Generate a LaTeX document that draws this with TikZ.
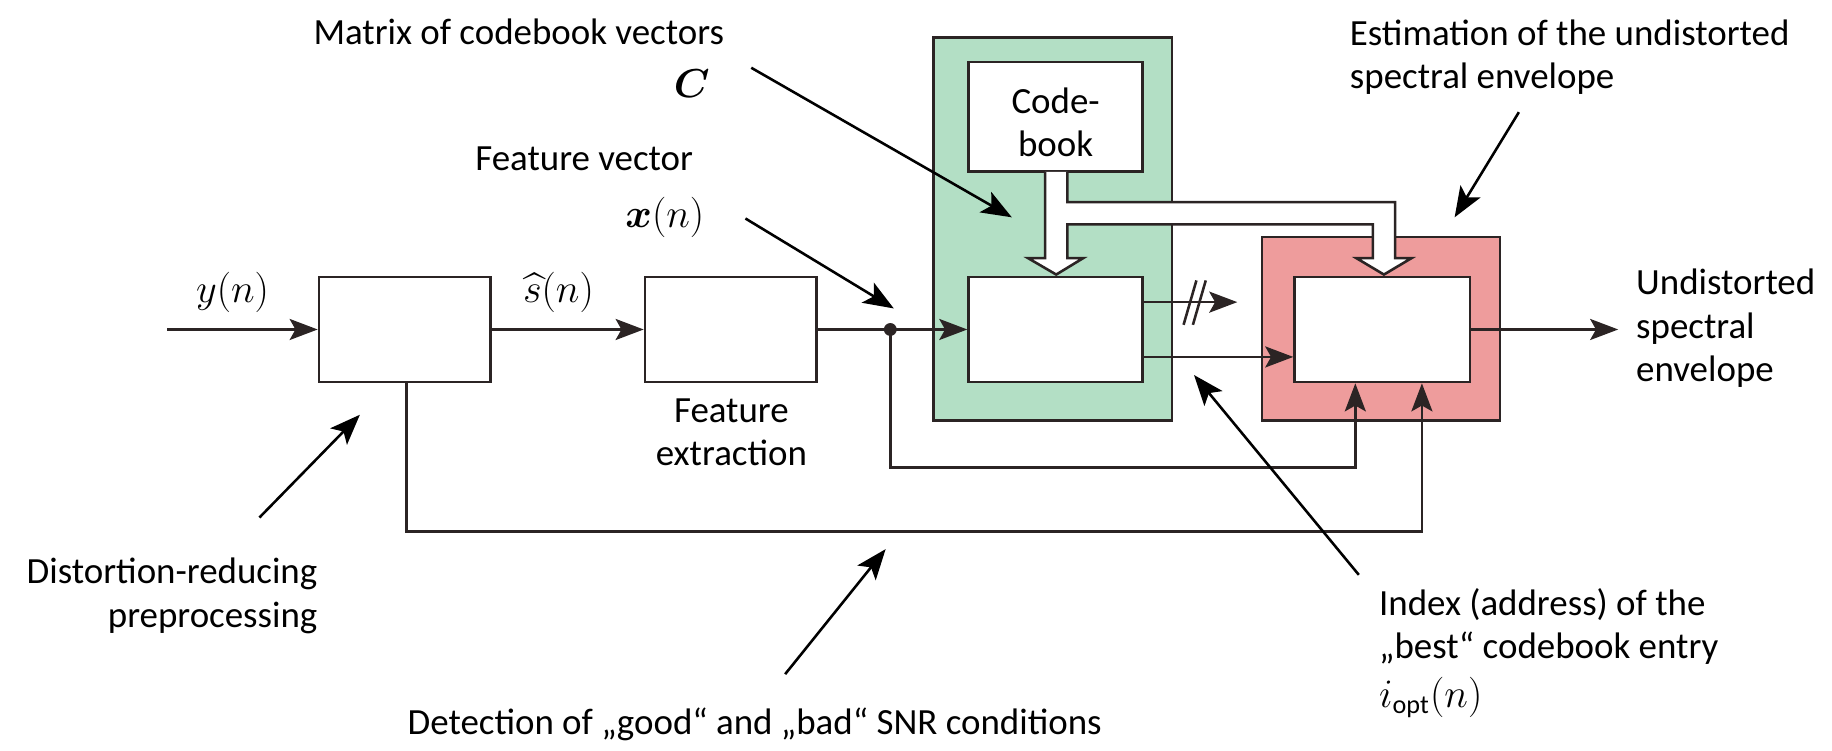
\documentclass[tikz,border=0pt]{standalone}
\usepackage{amsmath,bm}
\usepackage{fontspec}
\setmainfont{Carlito}
\usetikzlibrary{arrows.meta}
\definecolor{lineC}{HTML}{2B2424}
\definecolor{greenC}{HTML}{B3DFC5}
\definecolor{redC}{HTML}{EE9C9C}
\tikzset{
  blk/.style={draw=lineC, line width=1.1pt, fill=white, inner sep=0pt},
  sig/.style={draw=lineC, line width=1.1pt, -{Stealth[length=12pt,width=9pt,inset=2.5pt]}},
  pline/.style={draw=lineC, line width=1.1pt},
  note/.style={draw=black, line width=1.1pt, -{Stealth[length=13pt,width=10pt,inset=3pt]}},
  txt/.style={inner sep=0pt, font=\fontsize{15.8}{18.5}\selectfont},
  mth/.style={inner sep=0pt, font=\fontsize{16}{19}\selectfont},
}
\begin{document}
\begin{tikzpicture}[x=0.5pt,y=-0.5pt]
\useasboundingbox (0,0) rectangle (1568,642);
% background frames
\filldraw[fill=greenC, draw=lineC, line width=1.1pt] (799,32) rectangle (1003,360);
\filldraw[fill=redC, draw=lineC, line width=1.1pt] (1080,203) rectangle (1284,360);
% blocks
\node[blk, minimum width=73.5pt, minimum height=45pt] (pre) at (346.5,282) {};
\node[blk, minimum width=73.5pt, minimum height=45pt] (fe) at (625.5,282) {};
\node[blk, minimum width=74.5pt, minimum height=47pt] (cb) at (903.5,100) {};
\node[txt, align=center] (cbt) at (903.5,105) {Code-\\book};
\node[blk, minimum width=74.5pt, minimum height=45pt] (vq) at (903.5,282) {};
\node[blk, minimum width=75pt, minimum height=45pt] (est) at (1183,282) {};
% hollow arrows from codebook
\filldraw[fill=white, draw=lineC, line width=1.1pt]
  (894.5,147) -- (894.5,221) -- (880,221) -- (904,235) -- (927,221) -- (913.5,221)
  -- (913.5,192) -- (1175,192) -- (1175,221) -- (1161,221) -- (1184.5,235)
  -- (1208,221) -- (1194,221) -- (1194,173) -- (913.5,173) -- (913.5,147);
% signal path
\coordinate (in) at (143,282);
\draw[sig] (in) -- (pre.west);
\draw[sig] (pre.east) -- (fe.west);
\coordinate (jn) at (762,282);
\draw[pline] (fe.east) -- (jn);
\draw[sig] (jn) -- (vq.west);
\fill[lineC] (jn) circle (5.5);
\coordinate (dd) at (1059,258.6);
\draw[sig] (vq.east |- dd) -- (dd);
\draw[pline] (1013,278) -- (1024,240);
\draw[pline] (1021,278) -- (1032,240);
\draw[sig] (vq.east |- 0,305.5) -- (est.west |- 0,305.5);
\coordinate (out) at (1385,282);
\draw[sig] (est.east) -- (out);
\draw[sig] (jn) -- (762,400) -- (1160,400) -- (est.south -| 1160,0);
\draw[sig] (pre.south -| 348,0) -- (348,455) -- (1217,455) -- (est.south -| 1217,0);
% labels
\node[mth] (ly) at (199,250) {$y(n)$};
\node[mth] (ls) at (478,250) {$\widehat{s}(n)$};
\node[txt, align=center] (lfe) at (626,370) {Feature\\extraction};
\node[txt] (lmat) at (444,27) {Matrix of codebook vectors};
\node[mth] (lC) at (592,72) {$\bm{C}$};
\node[txt] (lfv) at (500,136) {Feature vector};
\node[mth] (lx) at (569,186) {$\bm{x}(n)$};
\node[txt, align=left, anchor=west] (lest) at (1155,49) {Estimation of the undistorted\\spectral envelope};
\node[txt, align=left, anchor=west] (lout) at (1400,281) {Undistorted\\spectral\\envelope};
\node[txt, align=right, anchor=east] (lpre) at (272,510) {Distortion-reducing\\preprocessing};
\node[txt] (ldet) at (646,620) {Detection of „good“ and „bad“ SNR conditions};
\node[txt, align=left, anchor=west] (lidx) at (1180,536.5) {Index (address) of the\\„best“ codebook entry};
\node[mth, anchor=west] (lopt) at (1180,597) {$i_{\mathrm{opt}}(n)$};
% annotation arrows
\coordinate (aM) at (643,58);
\coordinate (aF) at (638,187);
\coordinate (aE) at (1300,96);
\coordinate (aP) at (222,443);
\coordinate (aD) at (672,577);
\coordinate (aI) at (1163,492);
\draw[note] (aM) -- (866,186);
\draw[note] (aF) -- (765,264);
\draw[note] (aE) -- (1245,186);
\draw[note] (aP) -- (308,355);
\draw[note] (aD) -- (758,470);
\draw[note] (aI) -- (1022,321);
\end{tikzpicture}
\end{document}
